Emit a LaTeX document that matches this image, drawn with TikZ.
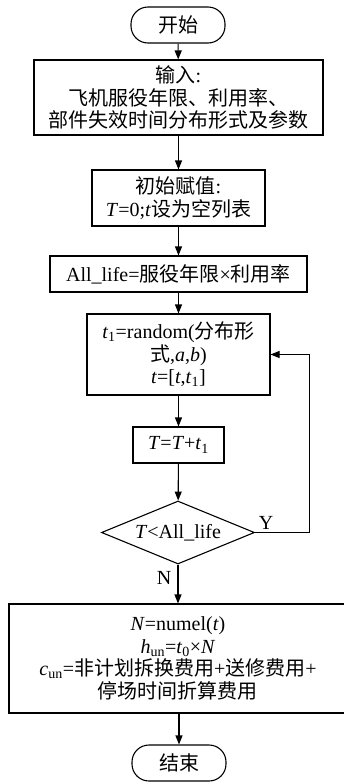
\documentclass[tikz,border=0pt]{standalone}
\usepackage{fontspec}
\setmainfont{Liberation Serif}
\newfontfamily\cjk{Noto Sans CJK SC}
\usetikzlibrary{arrows.meta,shapes.geometric}
\begin{document}
\begin{tikzpicture}[x=1pt,y=-1pt,
  base/.style={draw, line width=1.1pt, inner sep=0pt, align=center, font=\fontsize{20}{22.5}\selectfont},
  box/.style={base, rectangle},
  term/.style={base, rectangle, rounded corners=17pt, minimum width=94pt, minimum height=36pt},
  dec/.style={base, diamond, aspect=2.43, minimum width=153pt, minimum height=63pt},
  arr/.style={line width=1.1pt, -{Triangle[length=9pt,width=7pt]}},
  lbl/.style={font=\fontsize{20}{22}\selectfont, inner sep=0pt}]
\useasboundingbox (0,0) rectangle (344,782);
\node[term] (start) at (178,25) {\cjk 开始};
\node[box, minimum width=289pt, minimum height=75pt] (inp) at (178.5,97.5)
  {{\cjk 输入}:\\{\cjk 飞机服役年限、利用率、}\\{\cjk 部件失效时间分布形式及参数}};
\node[box, minimum width=173pt, minimum height=56pt] (init) at (178.5,198)
  {{\cjk 初始赋值}:\\\textit{T}=0;\textit{t}{\cjk 设为空列表}};
\node[box, minimum width=257pt, minimum height=36pt] (all) at (178.5,274)
  {All\_life={\cjk 服役年限}×{\cjk 利用率}};
\node[box, minimum width=183pt, minimum height=81pt] (rand) at (178.5,354.5)
  {\textit{t}\textsubscript{1}=random({\cjk 分布形}\\{\cjk 式},\textit{a},\textit{b})\\\textit{t}=[\textit{t},\textit{t}\textsubscript{1}]};
\node[box, minimum width=91pt, minimum height=36pt] (tt) at (178.5,445)
  {\textit{T}=\textit{T}+\textit{t}\textsubscript{1}};
\node[dec] (dia) at (178,532.5) {\textit{T}<All\_life};
\node[box, minimum width=338pt, minimum height=109pt] (fin) at (178,658.5)
  {\textit{N}=numel(\textit{t})\\\textit{h}\textsubscript{un}=\textit{t}\textsubscript{0}×\textit{N}\\\textit{c}\textsubscript{un}={\cjk 非计划拆换费用}+{\cjk 送修费用}+\\{\cjk 停场时间折算费用}};
\node[term] (end) at (179,763) {\cjk 结束};
\coordinate (corner) at (309.5,532.5);
\draw[arr] (start) -- (inp);
\draw[arr] (inp) -- (init);
\draw[arr] (init) -- (all);
\draw[arr] (all) -- (rand);
\draw[arr] (rand) -- (tt);
\draw[arr] (tt) -- (dia);
\draw[arr] (dia.south) -- (dia.south |- fin.north);
\draw[arr] (fin.south -| end.north) -- (end.north);
\draw[arr] (dia.east) -- (corner) |- (rand.east);
\node[lbl] (y) at (266,523) {Y};
\node[lbl] (n) at (164,578) {N};
\end{tikzpicture}
\end{document}
